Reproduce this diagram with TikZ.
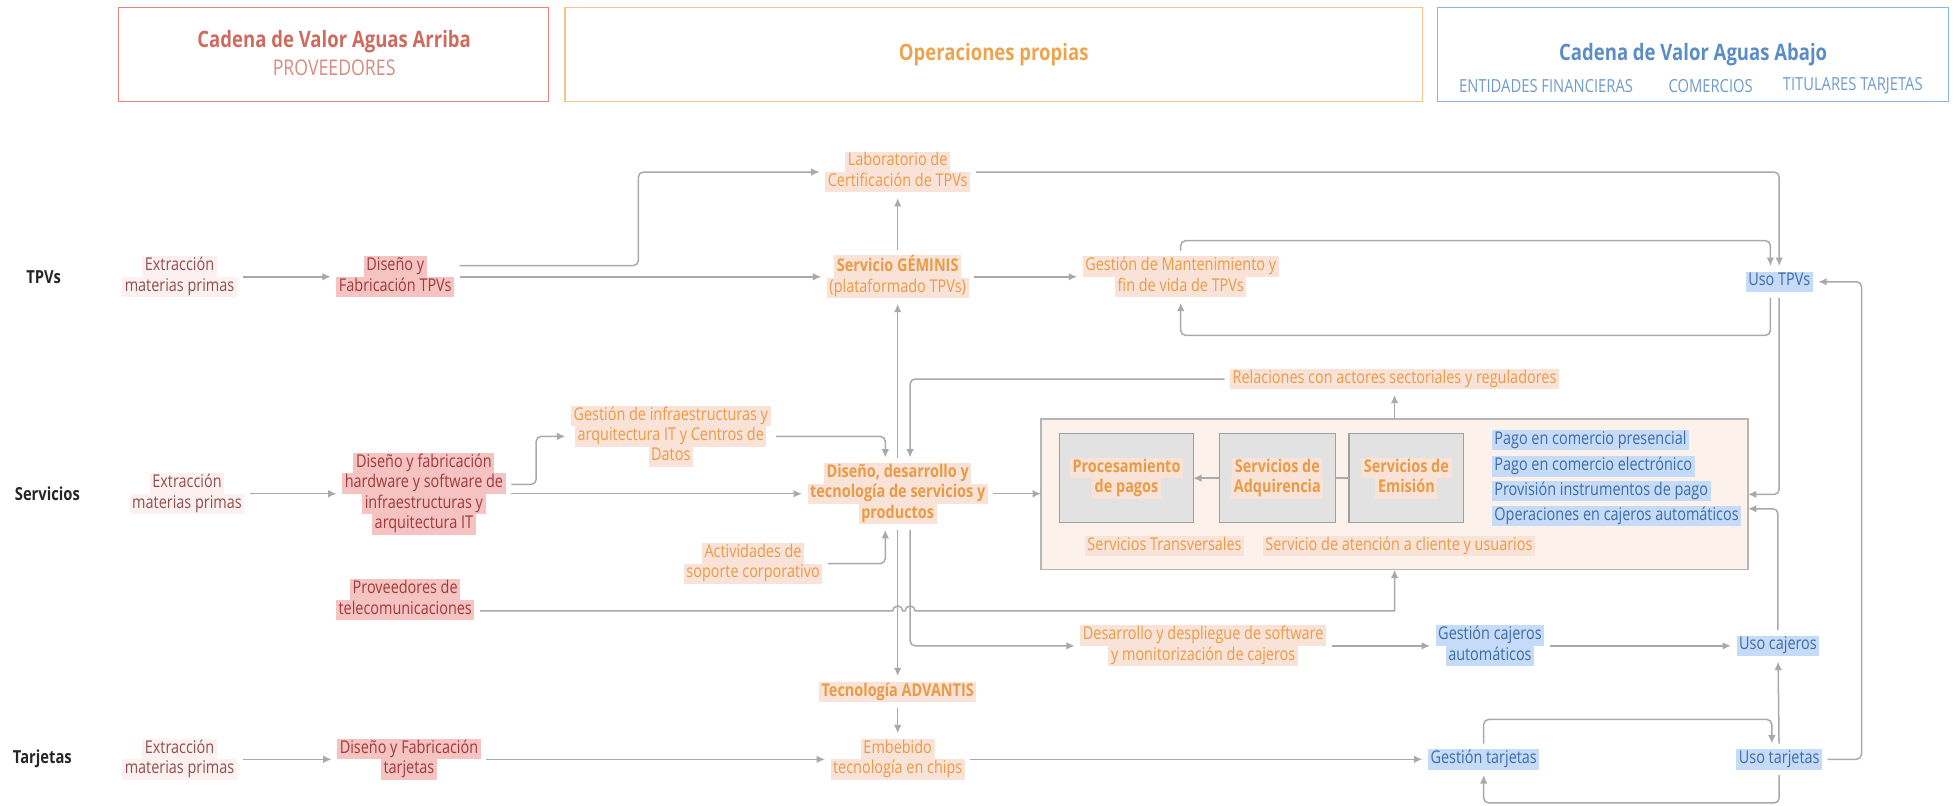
\documentclass[tikz,border=0pt]{standalone}
\usepackage{fontspec}
\setmainfont{Open Sans}[FakeStretch=0.82]
\usetikzlibrary{arrows.meta}
\setlength{\fboxsep}{0pt}
\definecolor{lnc}{HTML}{A9A9A9}
\definecolor{redT}{HTML}{CF6A5E}
\definecolor{redL}{HTML}{D98A83}
\definecolor{redB}{HTML}{E4847C}
\definecolor{orT}{HTML}{E99C45}
\definecolor{orH}{HTML}{EDA44F}
\definecolor{orB}{HTML}{F4C48E}
\definecolor{bluT}{HTML}{5B8DC5}
\definecolor{bluL}{HTML}{6F9BCB}
\definecolor{bluB}{HTML}{8EB4DD}
\definecolor{peach}{HTML}{F9E2D8}
\definecolor{pinkBg}{HTML}{F5C3C1}
\definecolor{pinkT}{HTML}{9E3B3A}
\definecolor{extT}{HTML}{8F4F4C}
\definecolor{extB}{HTML}{FCF1F0}
\definecolor{blueBg}{HTML}{C6DBF7}
\definecolor{blueTx}{HTML}{3E6CA6}
\definecolor{boxF}{HTML}{FCF1EB}
\definecolor{boxD}{HTML}{B5B5B5}
\definecolor{grayF}{HTML}{E2E2E2}
\definecolor{grayD}{HTML}{A0A0A0}
\colorlet{hlc}{white}
\newcommand{\hlx}[1]{\colorbox{hlc}{\hspace{1.3pt}\strut #1\hspace{1.3pt}}}
\begin{document}
\begin{tikzpicture}[x=0.6234pt,y=-0.6234pt,
  base/.style={inner sep=0pt, outer sep=2.8pt, align=center, font=\fontsize{8.8}{10.2}\selectfont},
  extn/.style={base, text=extT, execute at begin node={\colorlet{hlc}{extB}}},
  supn/.style={base, text=pinkT, execute at begin node={\colorlet{hlc}{pinkBg}}},
  ownn/.style={base, text=orT, execute at begin node={\colorlet{hlc}{peach}}},
  ownb/.style={ownn, font=\fontsize{8.8}{10.2}\selectfont\bfseries},
  dwnn/.style={base, text=blueTx, execute at begin node={\colorlet{hlc}{blueBg}}},
  rowl/.style={inner sep=0pt, font=\fontsize{9}{10}\selectfont\bfseries, text=black!85},
  hdr/.style={line width=0.7pt, inner sep=0pt, outer sep=0pt, minimum height=47pt},
  htitle/.style={inner sep=0pt, font=\fontsize{11.3}{13}\selectfont\bfseries},
  hsub/.style={inner sep=0pt, font=\fontsize{9}{11}\selectfont},
  ar/.style={draw=lnc, line width=0.75pt, rounded corners=2.5pt, -{Latex[length=4.2pt,width=3.8pt]}},
  ln/.style={draw=lnc, line width=0.75pt},
  gbox/.style={draw=grayD, fill=grayF, line width=0.6pt, inner sep=0pt, outer sep=0pt, minimum height=44.3pt}]
\useasboundingbox (0,0) rectangle (1568,646);
% headers
\node[hdr, draw=redB, minimum width=215.1pt] (h1) at (267.5,43.7) {};
\node[hdr, draw=orB, minimum width=428.9pt] (h2) at (797,43.7) {};
\node[hdr, draw=bluB, minimum width=255.6pt] (h3) at (1358,43.7) {};
\node[htitle, text=redT] (t1) at (268,33) {Cadena de Valor Aguas Arriba};
\node[hsub, text=redL, font=\fontsize{10.8}{12}\selectfont] (s1) at (268,54) {PROVEEDORES};
\node[htitle, text=orH] (t2) at (797,44) {Operaciones propias};
\node[htitle, text=bluT] (t3) at (1358,44) {Cadena de Valor Aguas Abajo};
\node[hsub, text=bluL] (s3a) at (1240,69) {ENTIDADES FINANCIERAS};
\node[hsub, text=bluL] (s3b) at (1372,69) {COMERCIOS};
\node[hsub, text=bluL] (s3c) at (1486,69) {TITULARES TARJETAS};
% row labels
\node[rowl] (rT) at (35,222) {TPVs};
\node[rowl] (rS) at (38,396) {Servicios};
\node[rowl] (rJ) at (34,609) {Tarjetas};
% TPV row
\node[extn] (ext1) at (144,222) {\hlx{Extracción}\\\hlx{materias primas}};
\node[supn] (dft) at (317,222) {\hlx{Diseño y}\\\hlx{Fabricación TPVs}};
\node[ownn] (lab) at (720,138) {\hlx{Laboratorio de}\\\hlx{Certificación de TPVs}};
\node[ownn] (gem) at (720,222) {\hlx{\bfseries Servicio GÉMINIS}\\\hlx{(plataformado TPVs)}};
\node[ownn] (gman) at (947,222) {\hlx{Gestión de Mantenimiento y}\\\hlx{fin de vida de TPVs}};
\node[dwnn] (usotpv) at (1427,226) {\hlx{Uso TPVs}};
% Servicios row
\node[extn] (ext2) at (150,396) {\hlx{Extracción}\\\hlx{materias primas}};
\node[supn] (dfh) at (340,396) {\hlx{Diseño y fabricación}\\\hlx{hardware y software de}\\\hlx{infraestructuras y}\\\hlx{arquitectura IT}};
\node[ownn] (gia) at (538,350) {\hlx{Gestión de infraestructuras y}\\\hlx{arquitectura IT y Centros de}\\\hlx{Datos}};
\node[ownb] (ddt) at (720,396) {\hlx{Diseño, desarrollo y}\\\hlx{tecnología de servicios y}\\\hlx{productos}};
\node[ownn] (act) at (604,452) {\hlx{Actividades de}\\\hlx{soporte corporativo}};
\node[ownn] (rel) at (1118.5,304) {\hlx{Relaciones con actores sectoriales y reguladores}};
\node[draw=boxD, fill=boxF, line width=0.6pt, inner sep=0pt, outer sep=0pt, minimum width=353.5pt, minimum height=75.4pt] (bigbox) at (1118.5,396.5) {};
\node[ownb, gbox, minimum width=66.7pt] (pp) at (903.5,383.5) {\hlx{Procesamiento}\\\hlx{de pagos}};
\node[ownb, gbox, minimum width=58pt] (adq) at (1024.5,383.5) {\hlx{Servicios de}\\\hlx{Adquirencia}};
\node[ownb, gbox, minimum width=57.4pt] (emi) at (1128,383.5) {\hlx{Servicios de}\\\hlx{Emisión}};
\node[dwnn, anchor=west] (b1) at (1192,353) {\hlx{Pago en comercio presencial}};
\node[dwnn, anchor=west] (b2) at (1192,374) {\hlx{Pago en comercio electrónico}};
\node[dwnn, anchor=west] (b3) at (1192,394) {\hlx{Provisión instrumentos de pago}};
\node[dwnn, anchor=west] (b4) at (1192,414) {\hlx{Operaciones en cajeros automáticos}};
\node[ownn] (st) at (934,438) {\hlx{Servicios Transversales}};
\node[ownn] (sac) at (1122,438) {\hlx{Servicio de atención a cliente y usuarios}};
\node[supn] (tel) at (325,481) {\hlx{Proveedores de}\\\hlx{telecomunicaciones}};
\node[ownn] (dds) at (965,518) {\hlx{Desarrollo y despliegue de software}\\\hlx{y monitorización de cajeros}};
\node[dwnn] (gca) at (1195,518) {\hlx{Gestión cajeros}\\\hlx{automáticos}};
\node[dwnn] (usocaj) at (1426,518) {\hlx{Uso cajeros}};
\node[ownb] (adv) at (720,555) {\hlx{Tecnología ADVANTIS}};
% Tarjetas row
\node[extn] (ext3) at (144,609) {\hlx{Extracción}\\\hlx{materias primas}};
\node[supn] (dftar) at (328,609) {\hlx{Diseño y Fabricación}\\\hlx{tarjetas}};
\node[ownn] (emb) at (720,609) {\hlx{Embebido}\\\hlx{tecnología en chips}};
\node[dwnn] (gtar) at (1190,609) {\hlx{Gestión tarjetas}};
\node[dwnn] (usotar) at (1427,609) {\hlx{Uso tarjetas}};
% helper coordinates
\coordinate (tpvTL) at ([xshift=-4.4pt]usotpv.north);
\coordinate (tpvBL) at ([xshift=-4.4pt]usotpv.south);
\coordinate (tarTL) at ([xshift=-3.7pt]usotar.north);
\coordinate (bbE2) at ([yshift=-7.2pt]bigbox.east);
\coordinate (ddtNL) at ([xshift=-6.2pt]ddt.north);
\coordinate (ddtNR) at ([xshift=6.2pt]ddt.north);
\coordinate (ddtSL) at ([xshift=-6.2pt]ddt.south);
\coordinate (ddtSR) at ([xshift=6.2pt]ddt.south);
% TPV connectors
\draw[ar] (ext1) -- (dft);
\draw[ar] (dft) -- (gem);
\draw[ar] ([yshift=5.6pt]dft.east) -- (512,213) |- (lab.west);
\draw[ar] (gem) -- (lab);
\draw[ar] (gem) -- (gman);
\draw[ar] (lab.east) -| (usotpv.north);
\draw[ar] (gman.north) -- (gman.north |- 0,193) -| (tpvTL);
\draw[ar] (tpvBL) -- (tpvBL |- 0,269) -| (gman.south);
\draw[ar] (usotpv.south) |- (bigbox.east);
\draw[ar] (usocaj.north) |- (bbE2);
\draw[ar] (usotar.east) -- (usotar.east -| 1493,0) |- (usotpv.east);
% Servicios connectors
\draw[ar] (ext2) -- (dfh);
\draw[ar] (dfh) -- (ddt);
\draw[ar] ([yshift=4.7pt]dfh.east) -- ++(20,0) |- (gia.west);
\draw[ar] (gia.east) -| (ddtNL);
\draw[ar] (act.east) -| (ddtSL);
\draw[ar] (rel.west) -| (ddtNR);
\draw[ar] (ddt) -- (gem);
\draw[ar] (ddt) -- (adv);
\draw[ar] (adv) -- (emb);
\draw[ar] (ddt.east) -- (ddt.east -| bigbox.west);
\draw[ar] (ddtSR) |- (dds.west);
\draw[ar] (bigbox) -- (rel);
\draw[ar] (adq) -- (pp);
\draw[ln] (adq) -- (emi);
\draw[ar, sharp corners] ([yshift=-5.6pt]tel.east) -- (716,490) arc[start angle=180,end angle=0,radius=2.5pt] -- (726,490) arc[start angle=180,end angle=0,radius=2.5pt] -- (1118.5,490) -- (bigbox.south);
\draw[ar] (dds) -- (gca);
\draw[ar] (gca) -- (usocaj);
% Tarjetas connectors
\draw[ar] (ext3) -- (dftar);
\draw[ar] (dftar) -- (emb);
\draw[ar] (emb) -- (gtar);
\draw[ar] (gtar.north) -- (gtar.north |- 0,577) -| (tarTL);
\draw[ar] (usotar.south) -- (usotar.south |- 0,644) -| (gtar.south);
\draw[ar] (usotar) -- (usocaj);
\end{tikzpicture}
\end{document}
